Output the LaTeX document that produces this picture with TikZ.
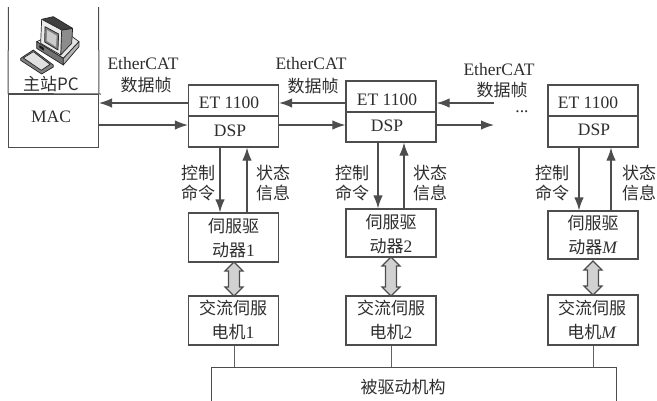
\documentclass[tikz,border=0pt]{standalone}
\usepackage{fontspec}
\setmainfont{Liberation Serif}
\newfontfamily\cjk{Noto Sans CJK SC}
\usetikzlibrary{arrows.meta}
\definecolor{ink}{HTML}{2E2E2E}
\tikzset{
  x=1pt,y=-1pt,
  every node/.style={text=ink,font=\fontsize{17.5}{24}\selectfont,inner sep=0pt,align=center},
  box/.style={draw=ink!85,line width=1.25pt,fill=white,minimum width=#1,anchor=center},
  box/.default=90pt,
  conn/.style={draw=ink!85,line width=1.25pt},
  arr/.style={conn,-{Latex[length=13pt,width=9.5pt]}},
  thin conn/.style={draw=ink!75,line width=1pt},
  dbl/.style={draw=ink!85,line width=1.1pt,fill=black!18,line join=miter},
  lbl/.style={font=\cjk\fontsize{17}{20}\selectfont},
  ecat/.style={font=\fontsize{17.5}{22}\selectfont}
}
\newcommand{\dblarrow}[3]{%
  \path[dbl] (#1,#2) -- (#1+9,#2+9) -- (#1+5.5,#2+9) -- (#1+5.5,#3-9) -- (#1+9,#3-9) -- (#1,#3)
   -- (#1-9,#3-9) -- (#1-5.5,#3-9) -- (#1-5.5,#2+9) -- (#1-9,#2+9) -- cycle;}
\newcommand{\zh}[1]{{\cjk\fontsize{17}{24}\selectfont #1}}
\begin{document}
\begin{tikzpicture}
\useasboundingbox (0,0) rectangle (657,400);
\clip (0,0) rectangle (657,400);

% master PC
\node[box=90pt,minimum height=53pt,line width=1pt] (mac) at (53.5,120.5) {};
\node at (51,117) {MAC};
\coordinate (pctopl) at (8.5,7);
\coordinate (pctopr) at (98.5,7);
\coordinate (pcdivr) at (101,94);
\draw[conn,line width=1pt] (pctopl) -- (mac.north west);
\draw[conn,line width=1pt] (pctopr) -- (mac.north east);
\draw[conn,line width=1pt] (mac.north west) -- (pcdivr);
\node[font=\cjk\fontsize{17}{20}\selectfont] (pclabel) at (51,84) {主站PC};

% computer icon
\begin{scope}[scale=0.3333,draw=black!85,line width=0.7pt,line join=round]
  % keyboard
  \filldraw[fill=black!50] (62,175) -- (100,150) -- (160,195) -- (160,201) -- (125,222) -- (62,181) -- cycle;
  \filldraw[fill=black!12] (70,174) -- (100,155) -- (150,193) -- (124,211) -- cycle;
  % base
  \filldraw[fill=black!10] (110,125) -- (190,90) -- (237,125) -- (190,175) -- cycle;
  \filldraw[fill=black!55] (110,125) -- (190,175) -- (190,195) -- (110,145) -- cycle;
  \filldraw[fill=black!30] (190,175) -- (237,125) -- (237,140) -- (190,195) -- cycle;
  \fill[black!90] (118,135) -- (132,144) -- (132,152) -- (118,143) -- cycle;
  % monitor
  \filldraw[fill=black!45] (185,90) -- (218,85) -- (215,130) -- (182,165) -- cycle;
  \filldraw[fill=black!75] (125,58) -- (160,50) -- (218,85) -- (185,90) -- cycle;
  \filldraw[fill=black!8] (125,58) -- (185,90) -- (182,165) -- (122,130) -- cycle;
  \filldraw[fill=black!50] (135,80) -- (176,102) -- (174,150) -- (134,126) -- cycle;
  \fill[black!20] (141,90) -- (170,107) -- (168,140) -- (140,122) -- cycle;
\end{scope}

% EtherCAT labels
\node[ecat] (e1) at (143,64) {EtherCAT};
\node[lbl] (f1) at (146,85) {数据帧};
\node[ecat] (e2) at (311,64) {EtherCAT};
\node[lbl] (f2) at (313,86) {数据帧};
\node[ecat] (e3) at (499,70) {EtherCAT};
\node[lbl] (f3) at (502,90) {数据帧};
\node (dots) at (522,112) {...};

% ET1100 / DSP
\node[box,minimum height=31pt] (et1) at (233.5,100.5) {};
\node[box,minimum height=31pt] (dsp1) at (233.5,131.5) {};
\node at (229,103) {ET 1100};
\node at (230,131) {DSP};
\node[box,minimum height=31pt] (et2) at (391,96.5) {};
\node[box,minimum height=30pt] (dsp2) at (391,127) {};
\node at (387,100) {ET 1100};
\node at (387,126) {DSP};
\node[box,minimum height=31pt] (et3) at (593,100.5) {};
\node[box,minimum height=31pt] (dsp3) at (593,131.5) {};
\node at (588,103) {ET 1100};
\node at (594,130) {DSP};

% servo drives
\node[box,minimum height=49pt] (s1) at (233.5,237.5) {};
\node at (233.5,238) {\zh{伺服驱}\\\zh{动器}1};
\node[box,minimum height=48pt] (s2) at (391,233) {};
\node at (391,234) {\zh{伺服驱}\\\zh{动器}2};
\node[box,minimum height=48pt] (s3) at (593,235) {};
\node at (593,235.5) {\zh{伺服驱}\\\zh{动器}\textit{M}};

% motors
\node[box,minimum height=49pt] (m1) at (233.5,320.5) {};
\node at (233,320) {\zh{交流伺服}\\\zh{电机}1};
\node[box,minimum height=49pt] (m2) at (391,320.5) {};
\node at (391,320) {\zh{交流伺服}\\\zh{电机}2};
\node[box,minimum height=50pt] (m3) at (593,320) {};
\node at (592,320) {\zh{交流伺服}\\\zh{电机}\textit{M}};

% driven mechanism
\node[box=405pt,minimum height=60pt,line width=1pt] (load) at (413.5,397) {};
\node[font=\cjk\fontsize{17}{20}\selectfont] (loadt) at (403,387) {被驱动机构};

% horizontal links
\coordinate (yl) at (0,103);
\coordinate (yr) at (0,125);
\coordinate (free1) at (494,103);
\coordinate (free2) at (494,125);
\draw[arr] (et1.west |- yl) -- (mac.east |- yl);
\draw[arr] (mac.east |- yr) -- (dsp1.west |- yr);
\draw[arr] (et2.west |- yl) -- (et1.east |- yl);
\draw[arr] (dsp1.east |- yr) -- (dsp2.west |- yr);
\draw[arr] (free1) -- (et2.east |- free1);
\draw[arr] (dsp2.east |- free2) -- (free2);

% vertical links
\coordinate (d1) at (220,0); \coordinate (u1) at (247,0);
\coordinate (d2) at (378,0); \coordinate (u2) at (404,0);
\coordinate (d3) at (579,0); \coordinate (u3) at (611,0);
\draw[arr] (dsp1.south -| d1) -- (s1.north -| d1);
\draw[arr] (s1.north -| u1) -- (dsp1.south -| u1);
\draw[arr] (dsp2.south -| d2) -- (s2.north -| d2);
\draw[arr] (s2.north -| u2) -- (dsp2.south -| u2);
\draw[arr] (dsp3.south -| d3) -- (s3.north -| d3);
\draw[arr] (s3.north -| u3) -- (dsp3.south -| u3);

\node[lbl] (c1) at (198,183.5) {控制\\命令};
\node[lbl] (i1) at (273,183.5) {状态\\信息};
\node[lbl] (c2) at (352,183) {控制\\命令};
\node[lbl] (i2) at (430,183) {状态\\信息};
\node[lbl] (c3) at (552,183) {控制\\命令};
\node[lbl] (i3) at (639,183) {状态\\信息};

% double arrows
\dblarrow{234}{262}{296}
\dblarrow{391}{257}{296}
\dblarrow{593}{261}{295}

% motor to load
\coordinate (l1) at (234,0); \coordinate (l2) at (391,0); \coordinate (l3) at (593,0);
\draw[thin conn] (m1.south -| l1) -- (load.north -| l1);
\draw[thin conn] (m2.south -| l2) -- (load.north -| l2);
\draw[thin conn] (m3.south -| l3) -- (load.north -| l3);
\end{tikzpicture}
\end{document}
